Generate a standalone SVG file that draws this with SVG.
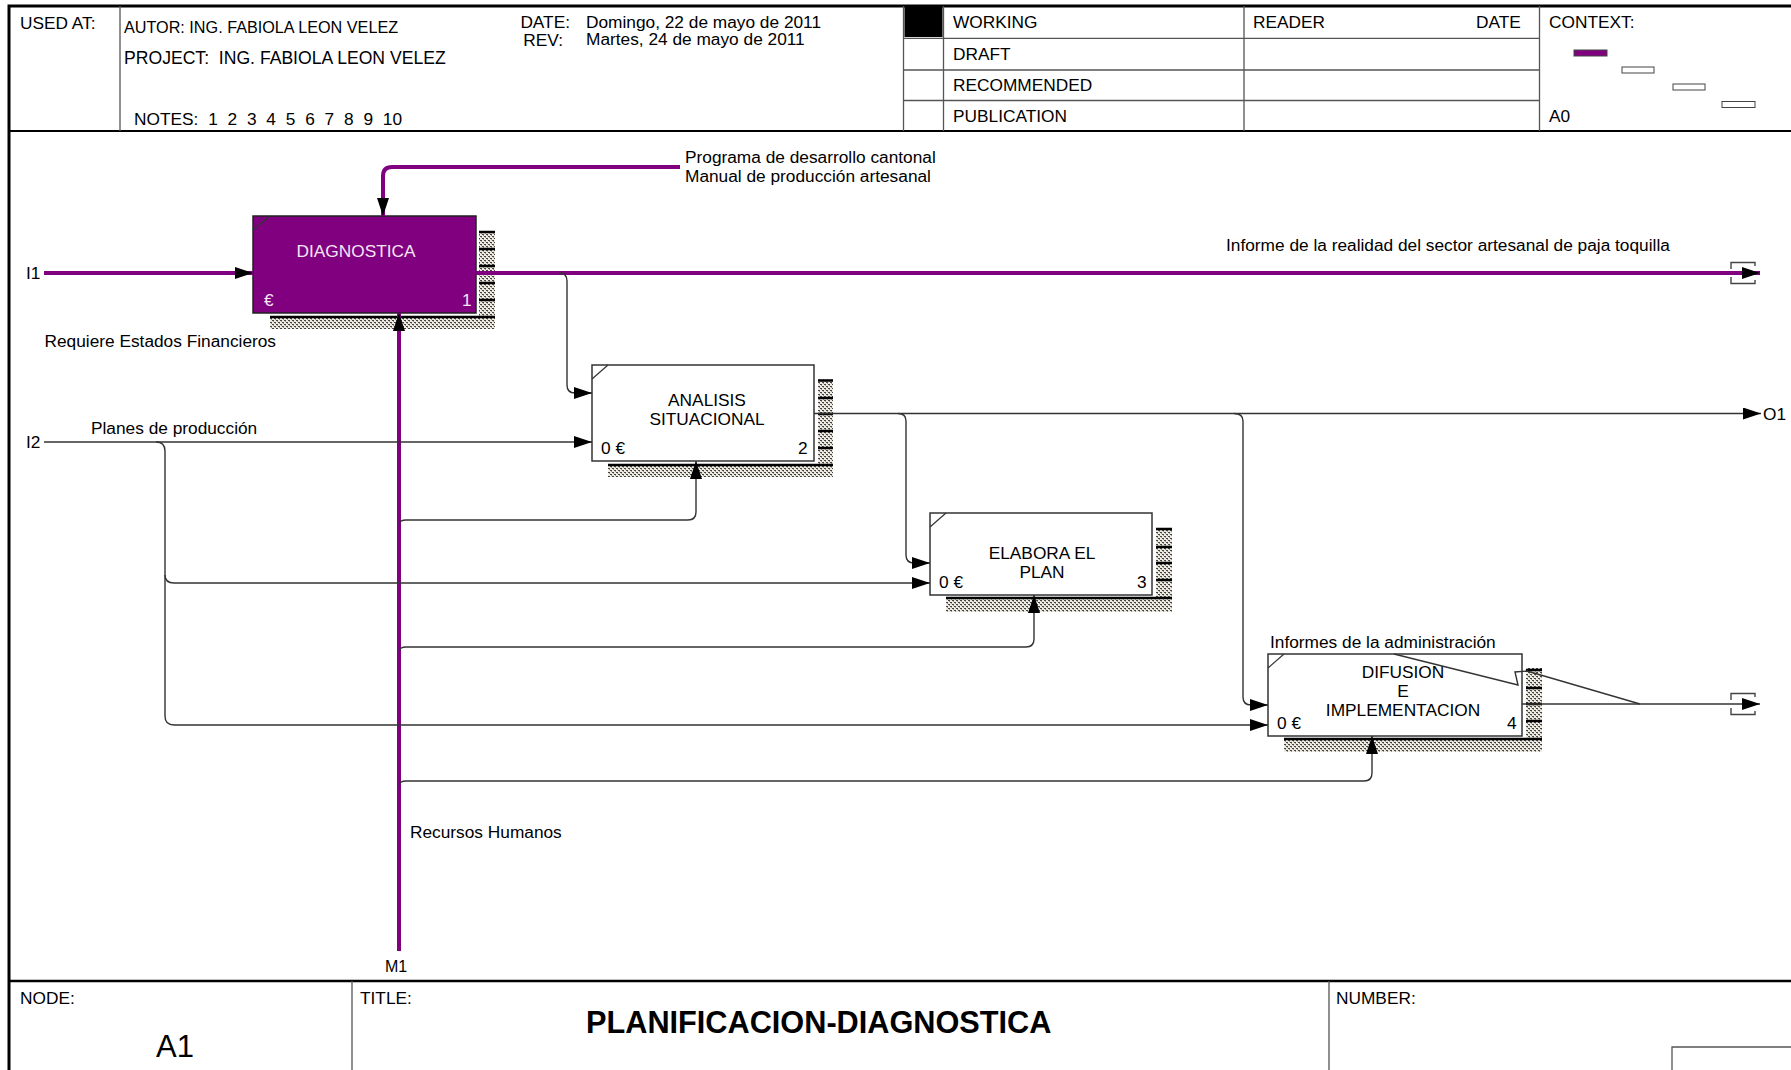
<svg xmlns="http://www.w3.org/2000/svg" width="1791" height="1070" viewBox="0 0 1791 1070">
<style>
text{font-family:"Liberation Sans",Arial,sans-serif;font-size:17.3px;fill:#000}
.frame{stroke:#000;fill:none}
.grid{stroke:#555;stroke-width:1.3;fill:none}
.box{fill:#fff;stroke:#333;stroke-width:1.5}
.boxp{fill:#800080;stroke:#222;stroke-width:1.5}
.diag{stroke:#333;stroke-width:1.2;fill:none}
.sh{fill:url(#hatch)}
.tick{stroke:#000;stroke-width:2.5}
.pl{stroke:#800080;stroke-width:4;fill:none}
.bl{stroke:#333;stroke-width:1.4;fill:none}
.tun{stroke:#444;stroke-width:1.4;fill:none}
.wt{fill:#f4e6f4}
</style>
<defs>
<pattern id="hatch" width="4" height="4" patternUnits="userSpaceOnUse">
<rect width="4" height="4" fill="#eeebe2"/>
<rect x="0" y="0" width="2" height="1" fill="#444"/>
<rect x="1" y="1" width="1" height="1" fill="#999"/>
<rect x="2" y="2" width="2" height="1" fill="#444"/>
<rect x="3" y="3" width="1" height="1" fill="#999"/>
</pattern>
<marker id="ah" markerUnits="userSpaceOnUse" markerWidth="18" markerHeight="12" refX="18" refY="6" orient="auto">
<path d="M0,0 L18,6 L0,12 z" fill="#000"/>
</marker>
</defs>

<g id="frame">
<path class="frame" stroke-width="3" d="M7.5 6 H1791 M9 5 V1070"/>
<path class="frame" stroke-width="2" d="M9 131 H1791"/>
<path class="grid" d="M120 6 V131 M903.5 6 V131 M943.5 6 V131 M1244 6 V131 M1539.5 6 V131 M903.5 38.3 H1539.5 M903.5 70 H1539.5 M903.5 100.5 H1539.5"/>
<rect x="904.5" y="7" width="38" height="30" fill="#000"/>
<text x="20" y="29">USED AT:</text>
<text x="124" y="33" style="font-size:16.2px">AUTOR: ING. FABIOLA LEON VELEZ</text>
<text x="124" y="64" xml:space="preserve" style="font-size:17.6px">PROJECT:  ING. FABIOLA LEON VELEZ</text>
<text x="134" y="124.5" word-spacing="5">NOTES: 1 2 3 4 5 6 7 8 9 10</text>
<text x="570" y="28" text-anchor="end">DATE:</text>
<text x="586" y="28">Domingo, 22 de mayo de 2011</text>
<text x="563" y="46" text-anchor="end">REV:</text>
<text x="586" y="45">Martes, 24 de mayo de 2011</text>
<text x="953" y="28">WORKING</text>
<text x="953" y="60">DRAFT</text>
<text x="953" y="90.5">RECOMMENDED</text>
<text x="953" y="121.5">PUBLICATION</text>
<text x="1253" y="28">READER</text>
<text x="1476" y="28">DATE</text>
<text x="1549" y="28">CONTEXT:</text>
<text x="1549" y="121.5">A0</text>
<rect x="1574" y="50" width="33" height="6" fill="#800080" stroke="#444" stroke-width="1"/>
<rect x="1622" y="67" width="32" height="6" fill="#fff" stroke="#444" stroke-width="1"/>
<rect x="1673" y="84" width="32" height="6" fill="#fff" stroke="#444" stroke-width="1"/>
<rect x="1722" y="101.5" width="33" height="6" fill="#fff" stroke="#444" stroke-width="1"/>
<path class="frame" stroke-width="2.5" d="M9 981 H1791"/>
<path class="grid" d="M352 981 V1070 M1329 981 V1070 M1672 1070 V1047 H1791"/>
<text x="20" y="1004">NODE:</text>
<text x="156" y="1057" style="font-size:31px">A1</text>
<text x="360" y="1004">TITLE:</text>
<text x="586" y="1033" style="font-size:30.7px;font-weight:bold">PLANIFICACION-DIAGNOSTICA</text>
<text x="1336" y="1004">NUMBER:</text>
</g>

<g id="node-a1">
<rect class="sh" x="479" y="231" width="16" height="98"/>
<rect class="sh" x="270" y="316" width="225" height="13"/>
<path class="tick" d="M479 232 H495 M479 249 H495 M479 266 H495 M479 283 H495 M479 300 H495 M270 317 H495"/>
<rect class="boxp" x="253" y="216" width="223" height="97"/>
<path class="diag" d="M253 230 L270 216"/>
<text class="wt" x="356" y="257" text-anchor="middle">DIAGNOSTICA</text>
<text class="wt" x="264" y="306">€</text>
<text class="wt" x="462" y="306">1</text>
</g>

<g id="node-a2">
<rect class="sh" x="818" y="379" width="15" height="98"/>
<rect class="sh" x="608" y="464" width="225" height="13"/>
<path class="tick" d="M818 380.5 H833 M818 398 H833 M818 414 H833 M818 431 H833 M818 448 H833 M608 465 H833"/>
<rect class="box" x="592" y="365" width="222" height="96"/>
<path class="diag" d="M592 379 L608 365"/>
<text x="707" y="405.5" text-anchor="middle">ANALISIS</text>
<text x="707" y="425" text-anchor="middle">SITUACIONAL</text>
<text x="601" y="454">0 €</text>
<text x="798" y="454">2</text>
</g>

<g id="node-a3">
<rect class="sh" x="1156" y="528" width="16" height="84"/>
<rect class="sh" x="946" y="597" width="226" height="15"/>
<path class="tick" d="M1156 529 H1172 M1156 547 H1172 M1156 563 H1172 M1156 580 H1172 M946 598 H1172"/>
<rect class="box" x="930" y="513" width="222" height="82"/>
<path class="diag" d="M930 527 L946 513"/>
<text x="1042" y="558.7" text-anchor="middle">ELABORA EL</text>
<text x="1042" y="577.7" text-anchor="middle">PLAN</text>
<text x="939" y="587.7">0 €</text>
<text x="1137" y="587.7">3</text>
</g>

<g id="node-a4">
<rect class="sh" x="1526" y="668" width="16" height="84"/>
<rect class="sh" x="1284" y="738" width="258" height="14"/>
<path class="tick" d="M1526 670 H1542 M1526 688 H1542 M1526 704 H1542 M1526 721 H1542 M1284 739 H1542"/>
<rect class="box" x="1268" y="654" width="254" height="82"/>
<path class="diag" d="M1268 668 L1284 654"/>
<text x="1403" y="677.5" text-anchor="middle">DIFUSION</text>
<text x="1403" y="697" text-anchor="middle">E</text>
<text x="1403" y="716" text-anchor="middle">IMPLEMENTACION</text>
<text x="1277" y="729">0 €</text>
<text x="1507" y="729">4</text>
</g>

<g id="connectors">
<path class="pl" d="M44 273 H253" marker-end="url(#ah)"/>
<path class="pl" d="M476 273 H1760" marker-end="url(#ah)"/>
<path class="pl" d="M680 167 H392 Q383 167 383 176 V216" marker-end="url(#ah)"/>
<path class="pl" d="M399 951 V313" marker-end="url(#ah)"/>
<path class="bl" d="M559 273 Q567 273 567 281 V385 Q567 393 575 393 H592" marker-end="url(#ah)"/>
<path class="bl" d="M44 442 H592" marker-end="url(#ah)"/>
<path class="bl" d="M156 442 Q165 442 165 451 V575 Q165 583 174 583 H930" marker-end="url(#ah)"/>
<path class="bl" d="M165 575 V716 Q165 725 174 725 H1268" marker-end="url(#ah)"/>
<path class="bl" d="M399 524 Q400 520 406 520 H688 Q696 520 696 512 V461" marker-end="url(#ah)"/>
<path class="bl" d="M399 651 Q400 647 406 647 H1026 Q1034 647 1034 639 V595" marker-end="url(#ah)"/>
<path class="bl" d="M399 785 Q400 781 406 781 H1364 Q1372 781 1372 773 V736" marker-end="url(#ah)"/>
<path class="bl" d="M814 413.5 H1761" marker-end="url(#ah)"/>
<path class="bl" d="M898 413.5 Q906 413.5 906 421 V555 Q906 563 914 563 H930" marker-end="url(#ah)"/>
<path class="bl" d="M1234 413.5 Q1243 413.5 1243 421 V697 Q1243 705 1251 705 H1268" marker-end="url(#ah)"/>
<path class="bl" d="M1522 704 H1760" marker-end="url(#ah)"/>
<path class="bl" d="M1394 654 L1518 685 L1515 672 L1527 671 L1640 704"/>
<path class="tun" d="M1731 269 V262.5 H1755 V266 M1731 277 V283.5 H1755 V280"/>
<path class="tun" d="M1731 700 V693.5 H1755 V697 M1731 708 V714.5 H1755 V711"/>
</g>

<g id="labels">
<text x="26" y="279">I1</text>
<text x="26" y="448">I2</text>
<text x="1763" y="420">O1</text>
<text x="396" y="972" text-anchor="middle" style="font-size:16px">M1</text>
<text x="685" y="162.5">Programa de desarrollo cantonal</text>
<text x="685" y="182">Manual de producción artesanal</text>
<text x="1226" y="250.5">Informe de la realidad del sector artesanal de paja toquilla</text>
<text x="44.5" y="346.5">Requiere Estados Financieros</text>
<text x="91" y="434">Planes de producción</text>
<text x="410" y="837.5">Recursos Humanos</text>
<text x="1270" y="648">Informes de la administración</text>
</g>
</svg>
